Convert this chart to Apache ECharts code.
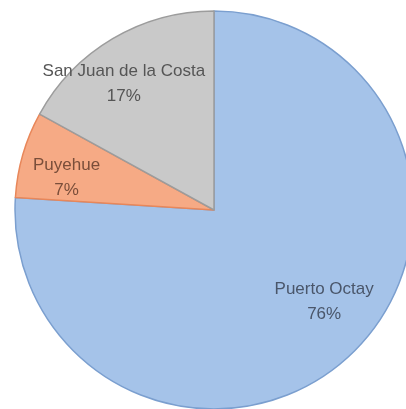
<!DOCTYPE html>
<html lang="es">
<head>
  <meta charset="UTF-8" />
  <title>Distribución por comuna</title>
  <script src="https://cdn.jsdelivr.net/npm/echarts@6.0.0/dist/echarts.min.js"></script>
  <style>
    html, body { margin: 0; padding: 0; background: #fff; }
    #chart { width: 406px; height: 409px; }
  </style>
</head>
<body>
  <div id="chart"></div>
  <script>
    // datos
    const comunas = ['Puerto Octay', 'Puyehue', 'San Juan de la Costa'];
    const porcentajes = [76, 7, 17];

    // estilo por sector
    const rellenos = ['#a5c3e9', '#f6aa85', '#c9c9c9'];
    const bordes = ['#7b9fcf', '#e8875a', '#9c9c9c'];
    const colorTexto = ['#4a566a', '#7a4e3a', '#555555'];
    const desplaz = [[40, 17], [-49, -4], [-38, -38]];

    const chart = echarts.init(document.getElementById('chart'));
    chart.setOption({
      animation: false,
      series: [{
        type: 'pie',
        center: [214, 210],
        radius: 199,
        startAngle: 90,
        clockwise: true,
        silent: true,
        label: {
          show: true,
          position: 'inside',
          fontFamily: 'Liberation Sans, Arial, sans-serif',
          fontSize: 17,
          lineHeight: 25,
          formatter: p => p.name + '\n' + p.value + '%'
        },
        labelLine: { show: false },
        data: comunas.map((c, i) => ({
          name: c,
          value: porcentajes[i],
          itemStyle: { color: rellenos[i], borderColor: bordes[i], borderWidth: 1.5 },
          label: { color: colorTexto[i], offset: desplaz[i] }
        }))
      }]
    });
  </script>
</body>
</html>
